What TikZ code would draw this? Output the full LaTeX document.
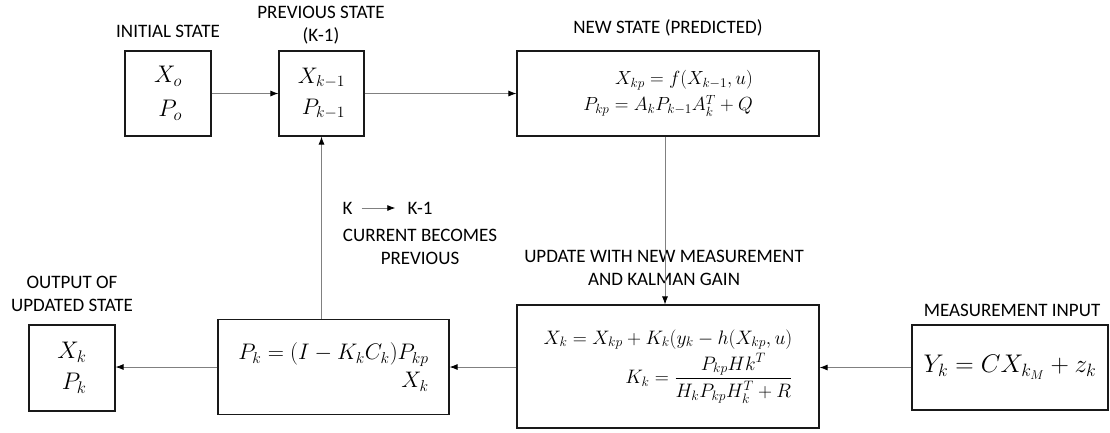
\RequirePackage{fix-cm}
\documentclass[tikz,border=0pt]{standalone}
\usepackage{amsmath}
\usepackage{fontspec}
\setmainfont{Carlito}
\usetikzlibrary{arrows.meta,calc}
\begin{document}
\begin{tikzpicture}[x=1pt,y=-1pt,
  blk/.style={draw=black!90, line width=1.2pt, inner sep=0pt, align=right,
    font=\fontsize{19.5}{23}\selectfont},
  big/.style={font=\fontsize{22.5}{26}\selectfont},
  huge/.style={font=\fontsize{24}{28}\selectfont},
  lbl/.style={font=\fontsize{19}{23}\selectfont, align=center, inner sep=0pt},
  conn/.style={draw=black!50, line width=0.8pt,
    -{Latex[length=8pt,width=6pt,color=black]}}]
\useasboundingbox (0,0) rectangle (1110,432);

% state boxes
\node[blk, huge, minimum width=86pt, minimum height=85pt] (init) at (168,93.5)
  {$X_o$\\[6pt]$P_o$};
\node[blk, big, minimum width=85pt, minimum height=85pt] (prev) at (321.5,93.5)
  {$X_{k-1}$\\[5pt]$P_{k-1}$};
\node[blk, font=\fontsize{19}{23}\selectfont, minimum width=302pt, minimum height=85pt] (newst) at (668,93.5)
  {$X_{kp}=f(X_{k-1},u)$\\[3pt]$P_{kp}=A_kP_{k-1}A_k^T+Q$};
\node[blk, minimum width=302pt, minimum height=123pt] (upd) at (668,366.5)
  {$X_k=X_{kp}+K_k(y_k-h(X_{kp},u)$\\[3pt]$K_k=\dfrac{P_{kp}Hk^T}{H_kP_{kp}H_k^T+R}$};
\node[blk, font=\fontsize{25.5}{30}\selectfont, minimum width=196pt, minimum height=85pt] (meas) at (1010,367.5)
  {$Y_k=CX_{k_M}+z_k$};
\node[blk, big, minimum width=231pt, minimum height=95pt] (mid) at (333.5,367)
  {$P_k=(I-K_kC_k)P_{kp}$\\[2pt]$X_k$};
\node[blk, huge, minimum width=86pt, minimum height=86pt] (out) at (72,368)
  {$X_k$\\[3pt]$P_k$};

% captions
\node[lbl] (initlbl) at (168,31) {INITIAL STATE};
\node[lbl] (prevlbl) at (321,25) {PREVIOUS STATE\\(K-1)};
\node[lbl] (newlbl) at (668,28) {NEW STATE (PREDICTED)};
\node[lbl] (updlbl) at (664,267.5) {UPDATE WITH NEW MEASUREMENT\\AND KALMAN GAIN};
\node[lbl] (measlbl) at (1012,310) {MEASUREMENT INPUT};
\node[lbl] (outlbl) at (72,294) {OUTPUT OF\\UPDATED STATE};
\node[lbl] (cur) at (420,247) {CURRENT BECOMES\\PREVIOUS};
\node[lbl] (kk) at (347.5,208) {K};
\node[lbl] (kk1) at (420,208) {K-1};
\draw[conn] ($(kk.east)+(9,0)$) -- ($(kk1.west)+(-12,0)$);

% flow
\draw[conn] (init) -- (prev);
\draw[conn] (prev) -- (newst);
\draw[conn] ($(newst.south)+(-3,0)$) coordinate (drop) -- (drop |- upd.north);
\draw[conn] (meas.west) -- (meas.west -| upd.east);
\draw[conn] (upd.west |- mid.east) -- (mid.east);
\draw[conn] (mid.west) -- (out.east |- mid.west);
\draw[conn] (mid.north -| prev.south) -- (prev.south);
\end{tikzpicture}
\end{document}
